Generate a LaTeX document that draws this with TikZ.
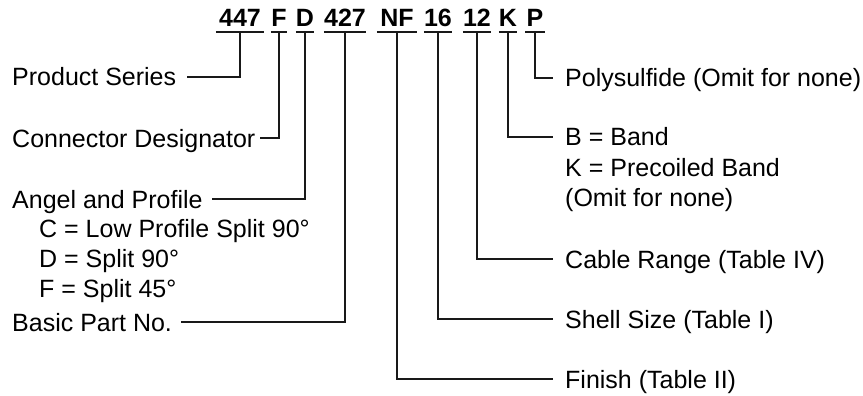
\documentclass[tikz,border=0pt]{standalone}
\usepackage{fontspec}
\setmainfont{Liberation Sans}
\begin{document}
\begin{tikzpicture}[x=1pt,y=-1pt,
  lbl/.style={anchor=base west,inner sep=0pt,font=\fontsize{25}{30}\selectfont},
  code/.style={anchor=base,inner sep=0pt,text depth=5pt,font=\fontsize{25}{30}\selectfont\bfseries},
  ln/.style={line width=1.9pt,color=black!90}]
\useasboundingbox (0,0) rectangle (863,396);
% code parts
\node[code,minimum width=48pt] (c1) at (240,27) {447};
\node[code,minimum width=16pt] (c2) at (279,27) {F};
\node[code,minimum width=18pt] (c3) at (305,27) {D};
\node[code,minimum width=42pt] (c4) at (345,27) {427};
\node[code,minimum width=40pt] (c5) at (397,27) {NF};
\node[code,minimum width=28pt] (c6) at (438,27) {16};
\node[code,minimum width=24pt] (c7) at (477,27) {12};
\node[code,minimum width=17pt] (c8) at (508,27) {K};
\node[code,minimum width=19pt] (c9) at (535,27) {P};
\foreach \n in {c1,c2,c3,c4,c5,c6,c7,c8,c9}
  \draw[ln] (\n.south west) -- (\n.south east);
% left labels
\node[lbl] (ps) at (12,86) {Product Series};
\node[lbl] (cd) at (12,147) {Connector Designator};
\node[lbl] (ap) at (12,208) {Angel and Profile};
\node[lbl] (apc) at (39,237) {C = Low Profile Split 90°};
\node[lbl] (apd) at (39,267) {D = Split 90°};
\node[lbl] (apf) at (39,297) {F = Split 45°};
\node[lbl] (bp) at (12,331) {Basic Part No.};
% right labels
\node[lbl] (po) at (565,87) {Polysulfide (Omit for none)};
\node[lbl] (bb) at (565,146) {B = Band};
\node[lbl] (bk) at (565,176) {K = Precoiled Band};
\node[lbl] (bo) at (565,206) {(Omit for none)};
\node[lbl] (cr) at (565,268) {Cable Range (Table IV)};
\node[lbl] (ss) at (565,328) {Shell Size (Table I)};
\node[lbl] (fi) at (565,388) {Finish (Table II)};
% line ends
\coordinate (e1) at (187,77);
\path (cd.base east) ++(4,-9) coordinate (e2);
\path (ap.base east) ++(9,-9) coordinate (e3);
\path (bp.base east) ++(9,-9) coordinate (e4);
\coordinate (e5) at (553,379);
\coordinate (e6) at (553,319);
\coordinate (e7) at (553,259);
\coordinate (e8) at (553,137);
\coordinate (e9) at (553,78);
\draw[ln] (c1.south) |- (e1);
\draw[ln] (c2.south) |- (e2);
\draw[ln] (c3.south) |- (e3);
\draw[ln] (c4.south) |- (e4);
\draw[ln] (c5.south) |- (e5);
\draw[ln] (c6.south) |- (e6);
\draw[ln] (c7.south) |- (e7);
\draw[ln] (c8.south) |- (e8);
\draw[ln] (c9.south) |- (e9);
\end{tikzpicture}
\end{document}
